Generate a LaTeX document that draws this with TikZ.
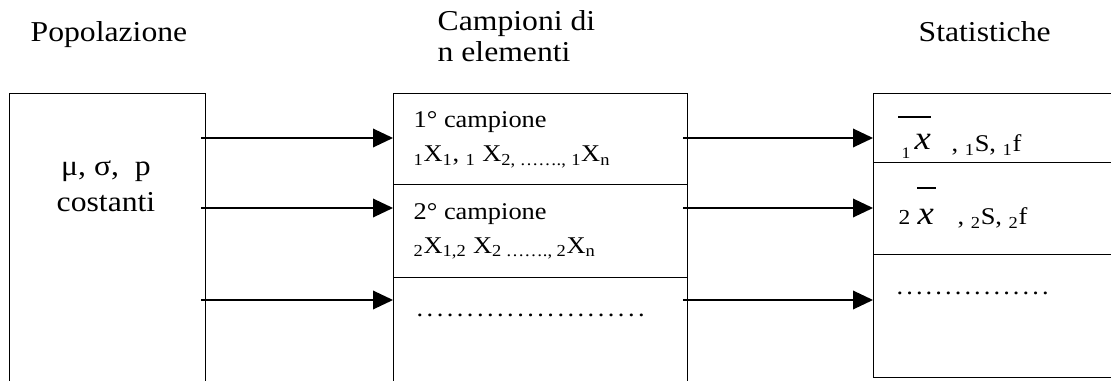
\documentclass[tikz,border=0pt]{standalone}
\usepackage{fontspec}
\setmainfont{Liberation Serif}[FakeStretch=1.1]
\usetikzlibrary{arrows.meta,calc}

% a row of evenly spread full stops, #1 wide, #2 stops
\newcommand{\stoprow}[2]{\makebox[#1][l]{.\foreach \k in {2,...,#2}{\hfill.}}}

\begin{document}
\begin{tikzpicture}[x=0.75pt,y=-0.75pt,line width=1pt,
  cell/.style={draw,rectangle,inner sep=0pt,anchor=north west},
  arr/.style={-{Triangle[length=15pt,width=14pt]}},
  txt/.style={anchor=base west,inner sep=0pt},
  big/.style={font=\fontsize{21.6}{24}\selectfont},
  small/.style={font=\fontsize{18}{21}\selectfont},
  xbig/.style={font=\fontsize{25}{28}\selectfont\itshape},
  bar/.style={line width=0.9pt}]
\useasboundingbox (0,0) rectangle (1111,381);
\clip (0,0) rectangle (1111,381);

% headings
\node[txt,big] (tpop) at (30,42) {Popolazione};
\node[txt,big] (tcamp) at (437,31) {Campioni di};
\node[txt,big] (tcamp2) at (437,62) {n elementi};
\node[txt,big] (tstat) at (918,42) {Statistiche};

% population box
\node[cell,minimum width=147pt,minimum height=232.5pt] (pop) at (9,93) {};
\node[big,anchor=base,inner sep=0pt] (par) at (106,176) {μ, σ,\ \ p};
\node[big,anchor=base,inner sep=0pt] (cost) at (106,212) {costanti};

% sample cells
\node[cell,minimum width=220.5pt,minimum height=68.25pt] (c1) at (393,93) {};
\node[cell,minimum width=220.5pt,minimum height=69.75pt] (c2) at (393,184) {};
\node[cell,minimum width=220.5pt,minimum height=97.5pt] (c3) at (393,277) {};

\node[txt,small] (c1a) at (413,128) {1° campione};
\node[txt,small] (c1b) at (413,162) {\textsubscript{1}X\textsubscript{1}, \textsubscript{1} X\textsubscript{2, ……., }\textsubscript{1}X\textsubscript{n}};
\node[txt,small] (c2a) at (413,220) {2° campione};
\node[txt,small] (c2b) at (413,253) {\textsubscript{2}X\textsubscript{1,2} X\textsubscript{2 ……., 2}X\textsubscript{n}};
\node[txt,small] (c3d) at (416,316) {\stoprow{171pt}{23}};

% statistics cells
\node[cell,minimum width=195pt,minimum height=51.75pt] (s1) at (873,93) {};
\node[cell,minimum width=195pt,minimum height=69pt] (s2) at (873,162) {};
\node[cell,minimum width=195pt,minimum height=92.25pt] (s3) at (873,254) {};

\node[txt,font=\fontsize{12}{14}\selectfont] (s1i) at (901,159) {1};
\node[txt,xbig] (s1x) at (914,150) {x};
\draw[bar] (898,117) -- (931,117);
\node[txt,small] (s1r) at (951,152) {, \textsubscript{1}S, \textsubscript{1}f};

\node[txt,font=\fontsize{16}{18}\selectfont] (s2i) at (898,225) {2};
\node[txt,xbig] (s2x) at (917,224) {x};
\draw[bar] (917,188) -- (936,188);
\node[txt,small] (s2r) at (957,225) {, \textsubscript{2}S, \textsubscript{2}f};

\node[txt,small] (s3d) at (896,295) {\stoprow{114pt}{16}};

% connectors
\coordinate (r1) at (0,138);
\coordinate (r2) at (0,208);
\coordinate (r3) at (0,300);
\foreach \r/\c/\s in {r1/c1/s1,r2/c2/s2,r3/c3/s3}{
  \draw[arr] ($(pop.east |- \r)+(-5,0)$) -- (\c.west |- \r);
  \draw[arr] ($(\c.east |- \r)+(-5,0)$) -- (\s.west |- \r);
}
\end{tikzpicture}
\end{document}
